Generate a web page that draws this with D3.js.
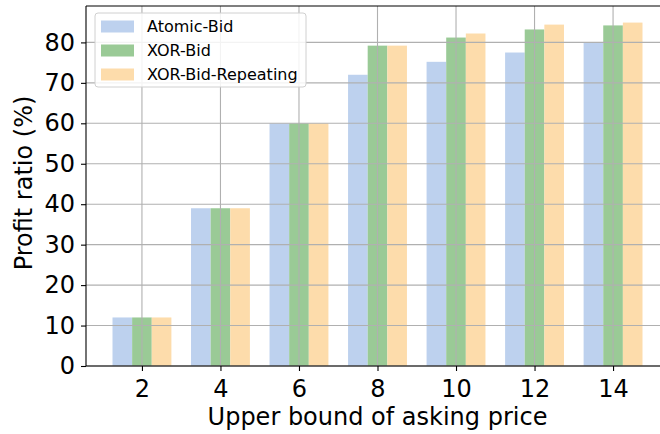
<!DOCTYPE html>
<html>
<head>
<meta charset="utf-8">
<script src="https://cdn.jsdelivr.net/npm/d3@7"></script>
<style>
  html, body { margin: 0; padding: 0; background: #fff; }
  svg { display: block; font-family: "DejaVu Sans", sans-serif; }
</style>
</head>
<body>
<svg id="chart" width="660" height="434"></svg>
<script>
// Upper bound of the asking price (x categories)
const prices = [2, 4, 6, 8, 10, 12, 14];
// Profit ratio (%) per bidding strategy
const atomicBid = [12, 39, 60, 72, 75.2, 77.5, 80];
const xorBid = [12, 39, 60, 79.2, 81.2, 83.2, 84.2];
const xorBidRepeating = [12, 39, 60, 79.2, 82.2, 84.4, 84.9];
const seriesNames = ["Atomic-Bid", "XOR-Bid", "XOR-Bid-Repeating"];
const yTicks = [0, 10, 20, 30, 40, 50, 60, 70, 80];

const series = [atomicBid, xorBid, xorBidRepeating];
const colors = ["#bdd1ee", "#9aca96", "#fddcab"];
const barW = 0.5;

const svg = d3.select("#chart");
const plot = { left: 86, right: 669, top: 6, bottom: 366 };

const x = d3.scaleLinear().domain([0.575, 15.425]).range([plot.left, plot.right]);
const y = d3.scaleLinear().domain([0, 89]).range([plot.bottom, plot.top]);

// bars
series.forEach((vals, si) => {
  svg.append("g").selectAll("rect")
    .data(prices.map((p, i) => ({ p, v: vals[i] })))
    .join("rect")
    .attr("x", d => x(d.p - 0.75 + si * barW))
    .attr("width", d => x(d.p - 0.75 + (si + 1) * barW) - x(d.p - 0.75 + si * barW))
    .attr("y", d => y(d.v))
    .attr("height", d => y(0) - y(d.v))
    .attr("fill", colors[si]);
});

// grid drawn above the bars
const grid = svg.append("g").attr("stroke", "#b0b0b0").attr("stroke-width", 1.1);
grid.selectAll("line.v").data(prices).join("line").attr("class", "v")
  .attr("x1", d => x(d)).attr("x2", d => x(d))
  .attr("y1", plot.top).attr("y2", plot.bottom);
grid.selectAll("line.h").data(yTicks).join("line").attr("class", "h")
  .attr("y1", d => y(d)).attr("y2", d => y(d))
  .attr("x1", plot.left).attr("x2", plot.right);

// axes
const xAxis = d3.axisBottom(x).tickValues(prices).tickSize(5).tickPadding(9).tickFormat(d3.format("d"));
const yAxis = d3.axisLeft(y).tickValues(yTicks).tickSize(5).tickPadding(6).tickFormat(d3.format("d"));

const gx = svg.append("g").attr("transform", `translate(0,${plot.bottom})`).call(xAxis);
const gy = svg.append("g").attr("transform", `translate(${plot.left},0)`).call(yAxis);
[gx, gy].forEach(g => {
  g.select(".domain").remove();
  g.selectAll(".tick line").attr("stroke", "#000").attr("stroke-width", 1.1);
  g.selectAll(".tick text").attr("fill", "#000").style("font-size", "24px")
    .style("font-family", "DejaVu Sans, sans-serif");
});

// spines
const spines = svg.append("g").attr("stroke", "#000").attr("stroke-width", 1.1).attr("fill", "none");
spines.append("line").attr("x1", plot.left).attr("x2", plot.left).attr("y1", plot.top).attr("y2", plot.bottom);
spines.append("line").attr("x1", plot.left).attr("x2", plot.right).attr("y1", plot.bottom).attr("y2", plot.bottom);
spines.append("line").attr("x1", plot.left).attr("x2", plot.right).attr("y1", plot.top).attr("y2", plot.top);
spines.append("line").attr("x1", plot.right).attr("x2", plot.right).attr("y1", plot.top).attr("y2", plot.bottom);

// axis titles
svg.append("text")
  .attr("x", (plot.left + plot.right) / 2).attr("y", 425)
  .attr("text-anchor", "middle").style("font-size", "24px")
  .text("Upper bound of asking price");
svg.append("text")
  .attr("transform", `translate(32,183) rotate(-90)`)
  .attr("text-anchor", "middle").style("font-size", "24px")
  .text("Profit ratio (%)");

// legend
const lg = svg.append("g");
lg.append("rect").attr("x", 95).attr("y", 13).attr("width", 211).attr("height", 74)
  .attr("rx", 3).attr("fill", "#fff").attr("fill-opacity", 0.85)
  .attr("stroke", "#d0d0d0").attr("stroke-width", 1);
seriesNames.forEach((name, i) => {
  const cy = 26.5 + i * 24;
  lg.append("rect").attr("x", 101).attr("y", cy - 6).attr("width", 33).attr("height", 12)
    .attr("fill", colors[i]);
  lg.append("text").attr("x", 147).attr("y", cy + 5.8).style("font-size", "16px").text(name);
});
</script>
</body>
</html>
